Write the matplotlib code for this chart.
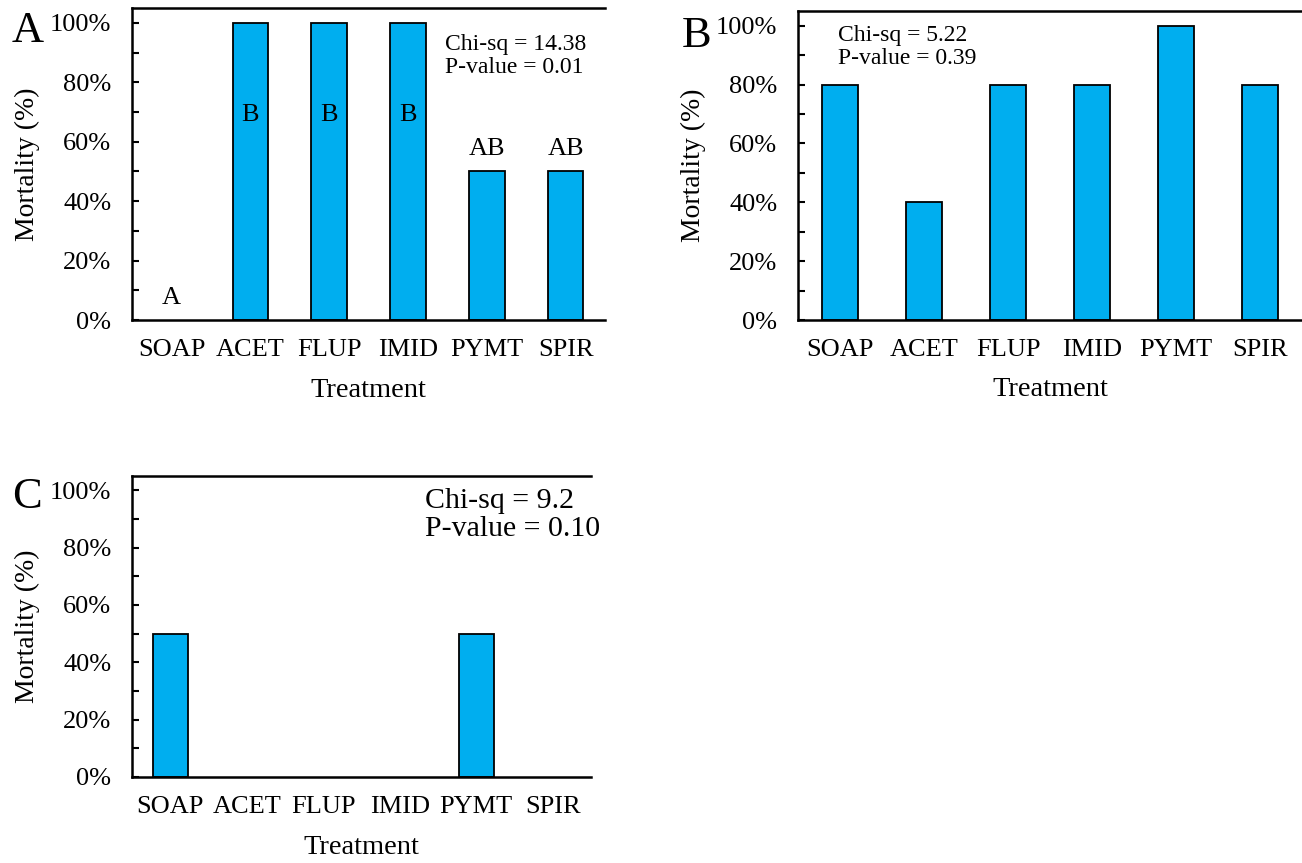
import matplotlib
matplotlib.use("Agg")
import matplotlib.pyplot as plt
import numpy as np
from matplotlib.ticker import MultipleLocator, PercentFormatter

plt.rcParams['font.family'] = ['Liberation Serif', 'DejaVu Serif']

treatments = ['SOAP', 'ACET', 'FLUP', 'IMID', 'PYMT', 'SPIR']
mortality_a = [0.0, 1.0, 1.0, 1.0, 0.5, 0.5]
mortality_b = [0.8, 0.4, 0.8, 0.8, 1.0, 0.8]
mortality_c = [0.5, 0.0, 0.0, 0.0, 0.5, 0.0]
letters_a = ['A', 'B', 'B', 'B', 'AB', 'AB']
stats_a = 'Chi-sq = 14.38\nP-value = 0.01'
stats_b = 'Chi-sq = 5.22\nP-value = 0.39'
stats_c = 'Chi-sq = 9.2\nP-value = 0.10'

bar_color = '#00AEEF'

fig = plt.figure(figsize=(13.02, 8.63), dpi=100)
ax_a = fig.add_axes([0.1014, 0.6292, 0.3633, 0.3615])
ax_b = fig.add_axes([0.6129, 0.6292, 0.3871, 0.3580])
ax_c = fig.add_axes([0.1014, 0.0997, 0.3525, 0.3488])


def style_axis(ax, values, width):
    x = np.arange(len(treatments))
    # no outline for empty bars
    edges = ['black' if v > 0 else 'none' for v in values]
    ax.bar(x, values, width=width, color=bar_color, edgecolor=edges, linewidth=1.3)
    ax.set_xlim(-0.5, len(treatments) - 0.5)
    ax.set_ylim(0, 1.05)
    ax.set_xticks(x)
    ax.set_xticklabels(treatments, fontsize=19)
    ax.tick_params(axis='x', length=0, pad=14)
    ax.yaxis.set_major_locator(MultipleLocator(0.2))
    ax.yaxis.set_minor_locator(MultipleLocator(0.1))
    ax.yaxis.set_major_formatter(PercentFormatter(1.0, decimals=0))
    ax.tick_params(axis='y', which='both', direction='in', length=5, width=1.5,
                   labelsize=19, pad=15)
    for side in ['left', 'bottom', 'top']:
        ax.spines[side].set_linewidth(1.8)
        ax.spines[side].set_zorder(3)
    ax.spines['right'].set_visible(False)
    ax.set_ylabel('Mortality (%)', fontsize=20)
    ax.set_xlabel('Treatment', fontsize=20.5)


style_axis(ax_a, mortality_a, 0.45)
style_axis(ax_b, mortality_b, 0.44)
style_axis(ax_c, mortality_c, 0.46)

ax_a.yaxis.set_label_coords(-0.195, 0.5)
ax_b.yaxis.set_label_coords(-0.183, 0.5)
ax_c.yaxis.set_label_coords(-0.200, 0.5)
ax_a.xaxis.set_label_coords(0.5, -0.186)
ax_b.xaxis.set_label_coords(0.5, -0.186)
ax_c.xaxis.set_label_coords(0.5, -0.193)

# significance letters in panel A
for i, (val, lab) in enumerate(zip(mortality_a, letters_a)):
    if val >= 0.9:
        y = val - 0.31
    else:
        y = val + 0.075
    ax_a.text(i, y, lab, ha='center', va='center', fontsize=19)

ax_a.text(0.662, 0.846, stats_a, transform=ax_a.transAxes, ha='left', va='center',
          fontsize=17, linespacing=1.15)
ax_b.text(0.079, 0.883, stats_b, transform=ax_b.transAxes, ha='left', va='center',
          fontsize=17, linespacing=1.15)
ax_c.text(0.638, 0.870, stats_c, transform=ax_c.transAxes, ha='left', va='center',
          fontsize=21.5, linespacing=1.1)

W, H = 1302, 863
fig.text(12 / W, 1 - 31 / H, 'A', fontsize=32, ha='left', va='center')
fig.text(682 / W, 1 - 36 / H, 'B', fontsize=32, ha='left', va='center')
fig.text(12 / W, 1 - 497 / H, 'C', fontsize=32, ha='left', va='center')

fig.savefig('out.png', dpi=100)
